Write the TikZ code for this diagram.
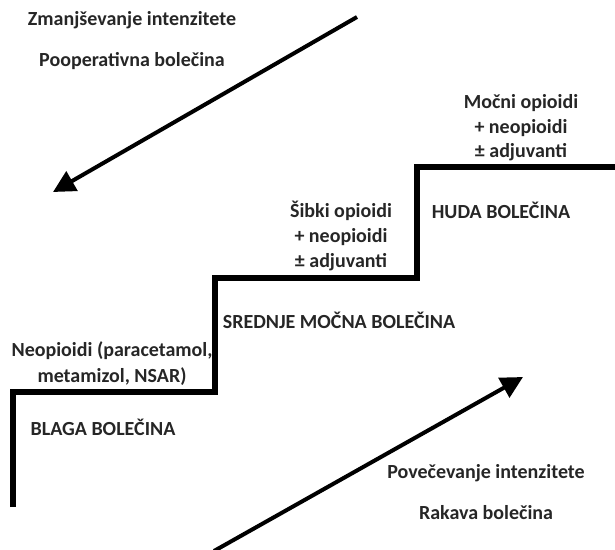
\documentclass[tikz,border=0pt]{standalone}
\usepackage{fontspec}
\setmainfont{Carlito}
\usetikzlibrary{arrows.meta}
\begin{document}
\begin{tikzpicture}[x=1pt,y=-1pt,
  lbl/.style={font=\bfseries\fontsize{20}{24}\selectfont, text=black!85, inner sep=0pt, align=center},
  stair/.style={line width=5.5pt, line join=miter},
  bigarrow/.style={line width=4pt, -{Triangle[length=22pt,width=22pt]}}]
\useasboundingbox (0,0) rectangle (615,549);
% staircase points
\coordinate (s0) at (13,507);
\coordinate (s1) at (13,392);
\coordinate (s2) at (215,392);
\coordinate (s3) at (215,278);
\coordinate (s4) at (417,278);
\coordinate (s5) at (417,167);
\coordinate (s6) at (615,167);
\draw[stair] (s0) -- (s1) -- (s2) -- (s3) -- (s4) -- (s5) -- (s6);
% arrows
\coordinate (a1s) at (357,17);
\coordinate (a1e) at (53,192);
\draw[bigarrow] (a1s) -- (a1e);
\coordinate (a2s) at (214,551);
\coordinate (a2e) at (523,377);
\draw[bigarrow] (a2s) -- (a2e);
% texts
\node[lbl] (t1) at (132,20) {Zmanjševanje intenzitete};
\node[lbl] (t2) at (132,61) {Pooperativna bolečina};
\node[lbl] (t3) at (521,103) {Močni opioidi};
\node[lbl] (t4) at (521,128) {+ neopioidi};
\node[lbl] (t5) at (521,152) {± adjuvanti};
\node[lbl] (t6) at (501,210) {HUDA BOLEČINA};
\node[lbl] (t7) at (341,211) {Šibki opioidi};
\node[lbl] (t8) at (341,237) {+ neopioidi};
\node[lbl] (t9) at (341,262) {± adjuvanti};
\node[lbl] (t10) at (339,320) {SREDNJE MOČNA BOLEČINA};
\node[lbl] (t11) at (112,351) {Neopioidi (paracetamol,};
\node[lbl] (t12) at (112,377) {metamizol, NSAR)};
\node[lbl] (t13) at (103,427) {BLAGA BOLEČINA};
\node[lbl] (t14) at (486,473) {Povečevanje intenzitete};
\node[lbl] (t15) at (486,513) {Rakava bolečina};
\end{tikzpicture}
\end{document}
